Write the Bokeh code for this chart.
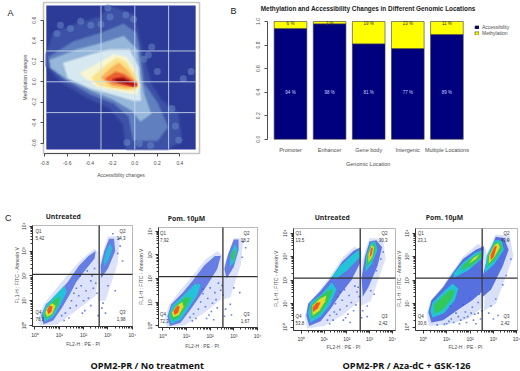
import math
import numpy as np
from bokeh.embed import file_html
from bokeh.resources import INLINE
from bokeh.layouts import column, row
from bokeh.plotting import figure
from bokeh.models import Label, FixedTicker, Legend, LegendItem, Range1d

# ---------- Panel A: density levels of (accessibility, methylation) changes
a_bg_x = [-0.785, 0.54]
a_bg_y = [-0.659, 0.743]
a_l1 = [(-0.78,0.26),(-0.72,0.47),(-0.51,0.56),(-0.30,0.63),(-0.22,0.73),(-0.01,0.65),(0.04,0.40),(0.08,0.21),(0.14,-0.02),(0.23,-0.18),(0.38,-0.31),(0.41,-0.57),(0.29,-0.65),(-0.07,-0.65),(-0.10,-0.41),(-0.22,-0.25),(-0.42,-0.15),(-0.66,0.01),(-0.78,0.16)]
a_l2 = [(-0.76,0.24),(-0.54,0.39),(-0.30,0.47),(-0.10,0.56),(0.01,0.47),(0.05,0.24),(0.08,-0.02),(0.20,-0.21),(0.29,-0.44),(0.20,-0.57),(-0.01,-0.57),(-0.05,-0.34),(-0.18,-0.21),(-0.39,-0.12),(-0.63,0.03),(-0.75,0.14)]
a_l3 = [(-0.75,0.21),(-0.51,0.31),(-0.30,0.37),(-0.10,0.44),(0.02,0.31),(0.05,0.05),(0.08,-0.12),(0.14,-0.31),(0.05,-0.38),(-0.02,-0.28),(-0.19,-0.17),(-0.39,-0.08),(-0.60,0.03),(-0.74,0.14)]
a_l4 = [(-0.63,0.18),(-0.39,0.26),(-0.22,0.31),(-0.05,0.31),(0.03,0.14),(0.04,-0.05),(0.05,-0.18),(-0.01,-0.18),(-0.19,-0.12),(-0.39,-0.06),(-0.59,0.04)]
a_l5 = [(-0.48,0.08),(-0.30,0.19),(-0.19,0.26),(-0.08,0.24),(0.01,0.09),(0.04,-0.05),(0.01,-0.12),(-0.16,-0.08),(-0.33,-0.05)]
a_l6 = [(-0.38,0.04),(-0.25,0.16),(-0.16,0.23),(-0.08,0.19),(0.01,0.05),(0.03,-0.05),(-0.02,-0.08),(-0.19,-0.06),(-0.32,-0.03)]
a_l7 = [(-0.30,0.04),(-0.20,0.14),(-0.14,0.18),(-0.07,0.11),(0.01,0.0),(0.01,-0.05),(-0.07,-0.06),(-0.20,-0.04)]
a_l8 = [(-0.26,0.03),(-0.17,0.09),(-0.10,0.07),(0.01,-0.01),(0.01,-0.04),(-0.10,-0.03),(-0.20,-0.01)]
a_l9 = [(-0.20,0.02),(-0.11,0.04),(-0.02,-0.01),(0.02,-0.03),(-0.02,-0.04),(-0.11,-0.01)]
a_l10 = [(-0.17,0.02),(-0.10,0.02),(-0.05,0.0),(-0.13,0.0)]
a_blob_x = [-0.66,-0.48,-0.57,-0.69,-0.30,-0.24,-0.08,-0.22,-0.01,-0.39,0.15,0.20,0.50,0.43,0.33,0.36,0.39,0.04,0.14,-0.07,0.12,0.08]
a_blob_y = [0.55,0.59,0.52,0.47,0.56,0.72,0.65,0.63,0.61,0.55,0.34,0.10,0.10,0.03,-0.26,-0.43,-0.57,-0.60,-0.62,-0.59,0.26,0.22]
a_ticks_x = [-0.8,-0.6,-0.4,-0.2,0.0,0.2,0.4]
a_ticks_y = [-0.6,-0.4,-0.2,0.0,0.2,0.4,0.6]
a_grid = [-0.3,0.0,0.3]

# ---------- Panel B: stacked shares per genomic location
locations = ["Promoter","Enhancer","Gene body","Intergenic","Multiple Locations"]
accessibility = [0.94,0.98,0.81,0.77,0.89]
methylation = [0.06,0.02,0.19,0.23,0.11]
acc_labels = ["94 %","98 %","81 %","77 %","89 %"]
met_labels = ["6 %","2 %","19 %","23 %","11 %"]

# ---------- Panel C: flow plots (log10 decades); density regions and loose events
c_ticks = [0,1,2,3,4]
c_tick_labels = ["10\u2070","10\u00b9","10\u00b2","10\u00b3","10\u2074"]

c1_gate = (2.64,2.06)
c1_pct = ["5,42","14,3","1,98","78,3"]
c1_pale = [(0.2,0.0),(0.9,0.03),(1.7,0.6),(2.5,1.2),(2.6,2.05),(2.6,2.95),(2.45,3.1),(1.95,2.7),(1.3,2.0),(0.8,1.4),(0.35,0.85),(0.15,0.3)]
c1_pale2 = [(2.6,1.0),(2.9,1.0),(3.4,2.5),(3.5,3.6),(3.0,3.6),(2.68,2.6)]
c1_blue = [(0.35,0.05),(0.75,0.2),(1.1,0.7),(1.4,1.2),(1.7,1.75),(2.0,2.15),(2.45,2.7),(2.5,3.0),(2.2,2.8),(1.8,2.4),(1.35,1.75),(0.9,1.25),(0.45,0.85),(0.25,0.4)]
c1_blue2 = [(2.72,1.9),(3.0,2.3),(3.3,3.0),(3.25,3.5),(3.05,3.5),(2.85,3.0),(2.7,2.4)]
c1_cyan = [(0.4,0.15),(0.75,0.35),(1.05,0.85),(1.3,1.35),(1.2,1.6),(0.85,1.25),(0.45,0.8),(0.3,0.45)]
c1_cyan2 = [(2.85,2.4),(3.0,2.6),(3.18,3.1),(3.1,3.3),(2.95,3.05),(2.82,2.6)]
c1_green = [(0.45,0.25),(0.7,0.4),(0.95,0.85),(1.05,1.15),(0.85,1.1),(0.5,0.75),(0.38,0.45)]
c1_yellow = [(0.5,0.35),(0.7,0.45),(0.85,0.8),(0.7,0.9),(0.5,0.7),(0.42,0.5)]
c1_red = [(0.55,0.45),(0.68,0.55),(0.72,0.78),(0.6,0.8),(0.5,0.62)]
c1_dot_x = [1.5,1.8,2.1,2.3,1.7,2.0,2.4,2.2,1.9,1.6,2.5,2.35,1.45,1.25,1.1,2.05,2.3,2.55,1.95,1.7,2.8,3.4,3.5,3.6,3.3,2.9,1.4,1.2,2.15,2.45,1.85,3.2,2.75,3.0,3.45,2.6]
c1_dot_y = [1.0,1.2,1.4,1.8,0.8,1.0,1.5,1.1,1.6,1.3,1.7,2.0,0.7,0.5,0.4,0.6,0.8,1.3,0.5,1.5,0.9,2.9,3.2,2.6,1.4,0.5,0.3,0.2,2.2,2.3,2.0,3.7,0.7,1.6,3.5,0.4]

c2_gate = (2.54,2.08)
c2_pct = ["7,92","18,2","1,67","72,3"]
c2_pale = [(0.15,-0.05),(0.9,0.0),(1.7,0.5),(2.45,1.1),(2.55,2.05),(2.5,3.0),(2.3,3.15),(1.8,2.8),(1.25,2.1),(0.7,1.45),(0.25,0.85),(0.1,0.3)]
c2_pale2 = [(2.55,1.1),(2.85,1.2),(3.3,2.6),(3.4,3.7),(3.0,3.7),(2.6,2.6)]
c2_blue = [(0.3,-0.02),(0.75,0.12),(1.15,0.65),(1.5,1.15),(1.9,1.75),(2.3,2.4),(2.45,2.95),(2.2,2.95),(1.75,2.55),(1.3,1.95),(0.85,1.4),(0.35,0.9),(0.2,0.4)]
c2_blue2 = [(2.7,2.0),(3.0,2.5),(3.2,3.2),(3.2,3.65),(3.0,3.65),(2.75,3.0),(2.6,2.4)]
c2_cyan = [(0.35,0.08),(0.75,0.25),(1.1,0.75),(1.45,1.3),(1.6,1.75),(1.35,1.75),(0.85,1.25),(0.4,0.85),(0.25,0.45)]
c2_cyan2 = [(2.82,2.5),(3.02,2.7),(3.15,3.25),(3.05,3.45),(2.88,3.05)]
c2_green = [(0.4,0.2),(0.7,0.35),(1.0,0.8),(1.2,1.2),(0.95,1.2),(0.55,0.85),(0.32,0.5)]
c2_green2 = [(2.9,2.75),(3.02,2.85),(3.07,3.2),(2.98,3.2),(2.88,3.0)]
c2_yellow = [(0.45,0.35),(0.68,0.45),(0.88,0.8),(0.82,1.0),(0.55,0.8),(0.38,0.55)]
c2_red = [(0.5,0.45),(0.65,0.55),(0.72,0.8),(0.62,0.85),(0.45,0.62)]
c2_dot_x = [1.6,1.9,2.2,2.35,1.8,2.1,2.45,2.25,2.0,1.7,2.5,1.5,1.3,1.15,2.05,2.3,2.55,1.95,1.7,2.85,3.35,3.5,3.25,2.9,1.4,1.25,2.65,3.0,3.4,2.6,1.85,2.15]
c2_dot_y = [1.0,1.15,1.4,1.8,0.8,0.95,1.5,1.1,1.6,1.35,1.7,0.7,0.5,0.35,0.6,0.75,1.3,0.45,1.55,0.9,2.9,3.3,1.4,0.45,0.3,0.2,0.7,1.6,3.55,0.4,0.3,0.25]

c3_gate = (2.59,2.09)
c3_pct = ["13,5","30,3","2,42","53,8"]
c3_pale = [(0.25,-0.05),(1.0,0.05),(1.8,0.5),(2.55,1.1),(2.6,2.05),(2.65,3.2),(2.35,3.45),(1.8,2.95),(1.3,2.2),(0.8,1.55),(0.3,1.0),(0.15,0.45)]
c3_pale2 = [(2.6,0.9),(3.05,1.1),(3.7,2.9),(3.6,3.75),(3.0,3.8),(2.65,2.8)]
c3_blue = [(0.35,0.05),(0.85,0.25),(1.3,0.8),(1.75,1.45),(2.2,2.0),(2.6,2.75),(2.6,3.4),(2.3,3.25),(1.8,2.8),(1.35,2.15),(0.85,1.55),(0.3,1.0),(0.22,0.5)]
c3_blue2 = [(2.7,1.3),(2.95,1.7),(3.35,2.6),(3.55,3.4),(3.3,3.7),(3.0,3.65),(2.8,3.0),(2.65,2.1)]
c3_cyan = [(0.4,0.2),(0.85,0.45),(1.25,0.95),(1.55,1.6),(1.35,1.9),(0.9,1.4),(0.4,1.05),(0.3,0.6)]
c3_cyan_band = [(1.5,2.05),(2.0,2.4),(2.6,3.0),(2.55,3.3),(2.2,3.05),(1.65,2.55),(1.35,2.15)]
c3_cyan2 = [(2.82,2.35),(3.1,2.7),(3.35,3.3),(3.25,3.65),(3.05,3.6),(2.85,3.0)]
c3_green = [(0.45,0.35),(0.85,0.6),(1.2,1.1),(1.4,1.6),(1.15,1.55),(0.7,1.2),(0.4,0.9)]
c3_green2 = [(2.88,2.55),(3.1,2.85),(3.28,3.35),(3.2,3.6),(3.05,3.45),(2.88,3.0)]
c3_yellow = [(0.5,0.5),(0.8,0.7),(1.05,1.1),(1.1,1.35),(0.8,1.2),(0.48,0.9)]
c3_yellow2 = [(2.95,2.75),(3.12,3.0),(3.2,3.4),(3.1,3.5),(2.95,3.1)]
c3_red = [(0.52,0.65),(0.72,0.8),(0.85,1.05),(0.68,1.05),(0.5,0.85)]
c3_red2 = [(3.0,2.95),(3.1,3.1),(3.15,3.4),(3.05,3.35)]
c3_dot_x = [1.5,1.8,2.1,2.35,1.7,2.0,2.45,2.2,1.9,1.6,2.5,1.45,1.25,1.15,2.05,2.3,2.55,1.95,1.7,2.9,3.3,3.5,3.2,2.9,1.4,1.25,2.7,3.05,3.6,2.65,1.85,2.15,1.55,2.4]
c3_dot_y = [1.0,1.15,1.35,1.75,0.75,0.9,1.5,1.05,1.6,1.3,1.7,0.65,0.5,0.3,0.55,0.7,1.3,0.4,1.5,0.9,2.4,2.9,1.4,0.45,0.3,0.15,0.7,1.55,3.2,0.4,0.3,0.2,0.55,0.95]

c4_gate = (2.52,2.09)
c4_pct = ["23,1","43,9","2,42","30,6"]
c4_pale = [(0.25,0.05),(1.0,0.1),(1.9,0.35),(2.55,0.85),(2.6,2.05),(2.7,3.3),(2.35,3.55),(1.7,3.0),(1.2,2.3),(0.8,1.7),(0.3,1.1),(0.15,0.55)]
c4_pale2 = [(2.6,0.7),(3.1,1.0),(3.85,3.0),(3.7,3.9),(3.1,3.95),(2.65,3.0)]
c4_blue = [(0.35,0.2),(0.85,0.3),(1.5,0.75),(2.1,1.15),(2.5,1.5),(2.55,2.7),(2.6,3.45),(2.25,3.3),(1.7,2.9),(1.25,2.3),(0.85,1.7),(0.35,1.15),(0.22,0.65)]
c4_blue2 = [(2.55,1.3),(2.9,1.6),(3.4,2.6),(3.65,3.3),(3.45,3.8),(3.1,3.85),(2.75,3.0),(2.55,2.2)]
c4_cyan = [(0.4,0.4),(0.9,0.6),(1.35,1.15),(1.5,1.65),(1.25,1.85),(0.85,1.5),(0.4,1.05),(0.3,0.7)]
c4_cyan_band = [(1.3,2.1),(1.9,2.4),(2.5,2.9),(2.55,3.3),(2.2,3.15),(1.7,2.75),(1.3,2.3)]
c4_cyan2 = [(2.62,2.3),(3.05,2.7),(3.45,3.3),(3.35,3.7),(3.05,3.7),(2.72,3.05)]
c4_green = [(0.5,0.55),(0.9,0.8),(1.25,1.25),(1.35,1.6),(1.1,1.55),(0.75,1.25),(0.45,0.95)]
c4_green_band = [(1.6,2.4),(2.1,2.65),(2.5,3.0),(2.5,3.2),(2.15,3.0),(1.7,2.65)]
c4_green2 = [(2.72,2.55),(3.05,2.85),(3.38,3.35),(3.3,3.62),(3.05,3.6),(2.78,3.05)]
c4_yellow = [(2.8,2.7),(3.05,3.0),(3.28,3.4),(3.2,3.58),(3.05,3.5),(2.82,3.05)]
c4_yellow_band = [(1.95,2.7),(2.25,2.9),(2.4,3.1),(2.15,2.95)]
c4_red = [(2.88,2.85),(3.02,3.0),(3.15,3.45),(3.05,3.45),(2.88,3.08)]
c4_dot_x = [1.2,1.5,1.8,2.1,2.35,1.1,1.4,1.7,2.0,2.4,1.3,1.6,1.9,2.2,2.5,1.0,1.55,1.85,2.15,2.45,2.9,3.1,3.4,3.55,3.75,2.8,3.2,1.15,1.75,2.25,2.05,2.35,0.9,0.6,3.6,3.0]
c4_dot_y = [0.35,0.45,0.65,0.85,1.05,0.25,0.6,0.95,1.25,1.4,0.2,0.3,0.45,0.55,0.7,0.15,0.15,0.2,0.3,0.35,0.9,1.2,1.8,2.2,2.9,0.6,0.5,0.9,0.4,0.15,0.6,0.6,0.12,0.1,3.7,0.35]

FONT = "Liberation Sans"
GREY = "#4d4d4d"


def canvas_figure(w, h, left, top, box, xr, yr):
    """A figure whose frame is its whole canvas; the panel box (page px) maps to xr, yr."""
    l, r, t, b = box
    xs = (xr[1] - xr[0]) / (r - l)
    ys = (yr[1] - yr[0]) / (b - t)
    x_full = (xr[0] - (l - left) * xs, xr[1] + (left + w - r) * xs)
    y_full = (yr[0] - (top + h - b) * ys, yr[1] + (t - top) * ys)
    f = figure(width=w, height=h, x_range=Range1d(*x_full), y_range=Range1d(*y_full),
               output_backend="svg", toolbar_location=None,
               min_border_left=0, min_border_right=0, min_border_top=0, min_border_bottom=0)
    f.grid.visible = False
    f.outline_line_color = None
    f.background_fill_color = None
    f.border_fill_color = None
    f.xaxis[0].fixed_location = yr[0]
    f.yaxis[0].fixed_location = xr[0]
    X = lambda p: xr[0] + (p - l) * xs
    Y = lambda p: yr[1] - (p - t) * ys
    return f, X, Y


def note(f, x, y, text, size, color="#333333", align="left", baseline="middle",
         style="normal", font=FONT, angle=0.0):
    f.add_layout(Label(x=x, y=y, text=text, text_font=font, text_font_size=f"{size}px",
                       text_color=color, text_align=align, text_baseline=baseline,
                       text_font_style=style, angle=angle))


def poly(f, pts, color, alpha=1.0, soft=0.0):
    f.patch([q[0] for q in pts], [q[1] for q in pts], fill_color=color, fill_alpha=alpha,
            line_color=color if soft else None, line_width=soft, line_alpha=0.45)


def style_axis(ax, color=GREY, size=5, tick=3):
    ax.axis_line_color = color
    ax.major_tick_line_color = color
    ax.major_tick_out = tick
    ax.major_tick_in = 0
    ax.minor_tick_line_color = None
    ax.major_label_text_font = FONT
    ax.major_label_text_font_size = f"{size}px"
    ax.major_label_text_color = color


# ---------- A
a_box_x = (-0.81, 0.574)
a_box_y = (-0.698, 0.772)
fa, XA, YA = canvas_figure(215, 190, 0, 0, (43, 199, 2, 153), a_box_x, a_box_y)
fa.quad(left=a_bg_x[0], right=a_bg_x[1], bottom=a_bg_y[0], top=a_bg_y[1], fill_color="#2d3b98", line_color=None)
poly(fa, a_l1, "#3d52a6", soft=4)
fa.scatter(a_blob_x, a_blob_y, size=7, marker="circle", fill_color="#6686c4", fill_alpha=0.55, line_color=None)
a_shades = ["#5f7fbe", "#97b7da", "#d6e9f0", "#f8f6d2", "#fbe38a", "#f8b25a", "#e9602f", "#b8141b", "#7d0a12"]
for pts, shade in zip([a_l2, a_l3, a_l4, a_l5, a_l6, a_l7, a_l8, a_l9, a_l10], a_shades):
    poly(fa, pts, shade, soft=3)
fa.segment(x0=a_grid, y0=[a_bg_y[0]] * 3, x1=a_grid, y1=[a_bg_y[1]] * 3, line_color="#cfdcef", line_width=1, line_alpha=0.85)
fa.segment(x0=[a_bg_x[0]] * 3, y0=a_grid, x1=[a_bg_x[1]] * 3, y1=a_grid, line_color="#cfdcef", line_width=1, line_alpha=0.85)
fa.quad(left=a_box_x[0], right=a_box_x[1], bottom=a_box_y[0], top=a_box_y[1], fill_color=None, line_color="#c4c4c4", line_width=1.6)
for ax, ticks in ((fa.xaxis[0], a_ticks_x), (fa.yaxis[0], a_ticks_y)):
    ax.ticker = FixedTicker(ticks=ticks)
    style_axis(ax)
    ax.major_label_standoff = 4
    ax.bounds = (ticks[0], ticks[-1])
    ax.major_label_overrides = {t: f"{t:.1f}" for t in ticks}
fa.yaxis[0].major_label_orientation = "vertical"
note(fa, XA(120.5), YA(174), "Accessibility changes", 5, color=GREY, align="center")
note(fa, XA(24), YA(77), "Methylation changes", 5, color=GREY, align="center", angle=math.pi / 2)
note(fa, XA(7), YA(12), "A", 9, color="#222222")

# ---------- B
b_unit = 117.7
b_pitch = 39.1
b_left = -(290 - 266.7) / b_pitch
b_right = (470 - 290) / b_pitch
fb, XB, YB = canvas_figure(305, 190, 215, 0, (266.7, 470, 21, 138.7), (b_left, b_right), (0.0, 1.0))
bar_idx = list(range(len(locations)))
r_acc = fb.vbar(x=bar_idx, width=0.835, bottom=0, top=accessibility, fill_color="#00007f", line_color="#3a3a3a", line_width=0.6)
r_met = fb.vbar(x=bar_idx, width=0.835, bottom=accessibility, top=[a + m for a, m in zip(accessibility, methylation)],
                fill_color="#ffff00", line_color="#3a3a3a", line_width=0.6)
for i in bar_idx:
    note(fb, i, 0.40, acc_labels[i], 4.5, color="#c9d2ff", align="center")
    note(fb, i, 0.985, met_labels[i], 4.5, color="#333333", align="center")
fb.xaxis[0].ticker = FixedTicker(ticks=bar_idx)
style_axis(fb.xaxis[0], size=5.5)
fb.xaxis[0].major_label_overrides = {i: locations[i] for i in bar_idx}
fb.xaxis[0].axis_line_color = None
fb.xaxis[0].major_tick_line_color = None
fb.xaxis[0].major_tick_out = 0
fb.xaxis[0].major_label_standoff = 8
fb.yaxis[0].ticker = FixedTicker(ticks=[0, 0.2, 0.4, 0.6, 0.8, 1.0])
style_axis(fb.yaxis[0], size=5)
fb.yaxis[0].bounds = (0, 1)
fb.yaxis[0].major_label_overrides = {0: "0.0", 0.2: "0.2", 0.4: "0.4", 0.6: "0.6", 0.8: "0.8", 1.0: "1.0"}
fb.yaxis[0].major_label_orientation = "vertical"
fb.yaxis[0].major_label_standoff = 4
note(fb, XB(367.7), YB(8), "Methylation and Accessibility Changes in Different Genomic Locations",
     6.4, color="#1a1a1a", align="center", style="bold")
note(fb, XB(367.7), YB(163), "Genomic Location", 5.5, color=GREY, align="center")
note(fb, XB(230), YB(10), "B", 9, color="#222222", align="left")
leg = Legend(items=[LegendItem(label="Accessibility", renderers=[r_acc]), LegendItem(label="Methylation", renderers=[r_met])],
             location=(259, 154), border_line_color=None, background_fill_alpha=0,
             glyph_width=5, glyph_height=4, label_text_font=FONT, label_text_font_size="5px", label_text_color=GREY,
             padding=0, margin=0, spacing=0, label_standoff=3, label_height=5)
fb.add_layout(leg)


# ---------- C
def flow(w, canvas_left, box, xr, yr, gate, pct, layers, dot_x, dot_y, title, title_cx, title_y, q, xlab, ylab_x):
    f, X, Y = canvas_figure(w, 160, canvas_left, 190, box, xr, yr)
    f.quad(left=xr[0], right=xr[1], bottom=yr[0], top=yr[1], fill_color=None, line_color="#999999", line_width=0.7)
    for pts, color, alpha in layers:
        poly(f, pts, color, alpha)
    f.scatter(dot_x, dot_y, size=1.6, marker="square", fill_color="#3b58d8", fill_alpha=0.75, line_color=None)
    f.segment(x0=[gate[0]], y0=[yr[0]], x1=[gate[0]], y1=[yr[1]], line_color="#333333", line_width=1.3)
    f.segment(x0=[xr[0]], y0=[gate[1]], x1=[xr[1]], y1=[gate[1]], line_color="#333333", line_width=1.3)
    minor = [float(np.log10(m)) + d for d in range(4) for m in range(2, 10)]
    for ax, span in ((f.xaxis[0], xr), (f.yaxis[0], yr)):
        style_axis(ax, color="#333333", size=5)
        ax.bounds = span
        ax.ticker = FixedTicker(ticks=c_ticks, minor_ticks=minor)
        ax.major_label_overrides = dict(zip(c_ticks, c_tick_labels))
        ax.minor_tick_line_color = "#333333"
        ax.minor_tick_out = 2
        ax.minor_tick_in = 0
        ax.major_label_standoff = 2
    f.yaxis[0].major_label_orientation = "vertical"
    note(f, X(xlab[0]), Y(xlab[1]), "FL2-H : PE - PI", 5, color=GREY, align="center")
    note(f, X(ylab_x), Y((box[2] + box[3]) / 2 - 1), "FL1-H : FITC - Annexin V", 5, color=GREY, align="center", angle=math.pi / 2)
    note(f, X(title_cx), Y(title_y), title, 6.8, color="#262626", align="center", style="bold", font="Open Sans")
    lft, rgt, ytop, ybot = q
    note(f, X(lft), Y(ytop), "Q1", 4.5)
    note(f, X(lft), Y(ytop + 6.5), pct[0], 4.5)
    note(f, X(rgt), Y(ytop), "Q2", 4.5, align="right")
    note(f, X(rgt), Y(ytop + 6.5), pct[1], 4.5, align="right")
    note(f, X(rgt), Y(ybot), "Q3", 4.5, align="right")
    note(f, X(rgt), Y(ybot + 6.5), pct[2], 4.5, align="right")
    note(f, X(lft), Y(ybot), "Q4", 4.5)
    note(f, X(lft), Y(ybot + 6.5), pct[3], 4.5)
    return f, X, Y


PALE, BLUE, CYAN, GREEN, YELLOW, RED = "#c3cff5", "#3f5cdc", "#25c3d8", "#34c85c", "#dfdc2c", "#ec5a26"
c1_layers = [(c1_pale, PALE, 0.6), (c1_pale2, PALE, 0.6), (c1_blue, BLUE, 0.75), (c1_blue2, BLUE, 0.75), (c1_cyan, CYAN, 1), (c1_cyan2, CYAN, 0.85),
             (c1_green, GREEN, 1), (c1_yellow, YELLOW, 1), (c1_red, RED, 1)]
c2_layers = [(c2_pale, PALE, 0.6), (c2_pale2, PALE, 0.6), (c2_blue, BLUE, 0.75), (c2_blue2, BLUE, 0.75), (c2_cyan, CYAN, 1), (c2_cyan2, CYAN, 1),
             (c2_green, GREEN, 1), (c2_green2, GREEN, 1), (c2_yellow, YELLOW, 1), (c2_red, RED, 1)]
c3_layers = [(c3_pale, PALE, 0.6), (c3_pale2, PALE, 0.6), (c3_blue, BLUE, 0.8), (c3_blue2, BLUE, 0.8), (c3_cyan, CYAN, 1), (c3_cyan_band, CYAN, 1), (c3_cyan2, CYAN, 1),
             (c3_green, GREEN, 1), (c3_green2, GREEN, 1), (c3_yellow, YELLOW, 1), (c3_yellow2, YELLOW, 1), (c3_red, RED, 1), (c3_red2, RED, 1)]
c4_layers = [(c4_pale, PALE, 0.65), (c4_pale2, PALE, 0.65), (c4_blue, BLUE, 0.85), (c4_blue2, BLUE, 0.85), (c4_cyan, CYAN, 1), (c4_cyan_band, CYAN, 1), (c4_cyan2, CYAN, 1),
             (c4_green, GREEN, 1), (c4_green_band, GREEN, 1), (c4_green2, GREEN, 1), (c4_yellow, YELLOW, 1), (c4_yellow_band, YELLOW, 1), (c4_red, RED, 1)]

f1, X1, Y1 = flow(136, 0, (32, 132, 225, 326), (-0.1, 4.01), (-0.04, 4.03), c1_gate, c1_pct, c1_layers, c1_dot_x, c1_dot_y,
                  "Untreated", 62.7, 216, (35, 125, 231, 312), (82.7, 343), 16.7)
f2, X2, Y2 = flow(136, 136, (158, 257, 227, 327), (-0.18, 4.0), (-0.08, 4.16), c2_gate, c2_pct, c2_layers, c2_dot_x, c2_dot_y,
                  "Pom. 10\u00b5M", 186, 218, (159.5, 249, 233, 314), (201.7, 345), 140)
f3, X3, Y3 = flow(124, 272, (293, 395, 228, 330), (-0.34, 4.14), (-0.14, 4.2), c3_gate, c3_pct, c3_layers, c3_dot_x, c3_dot_y,
                  "Untreated", 331.7, 216.7, (295, 387, 233, 316), (343, 346.5), 275.7)
f4, X4, Y4 = flow(124, 396, (415, 517, 228, 330), (-0.33, 4.03), (-0.14, 4.2), c4_gate, c4_pct, c4_layers, c4_dot_x, c4_dot_y,
                  "Pom. 10\u00b5M", 444, 216.7, (417.3, 509, 233, 316), (465, 346.5), 398)
note(f1, X1(4.5), Y1(217.5), "C", 9, color="#222222")

# ---------- captions under the flow plots
fc, XC, YC = canvas_figure(520, 21, 0, 350, (0, 520, 350, 371), (0, 520), (0, 21))
fc.xaxis.visible = False
fc.yaxis.visible = False
note(fc, 146.7, 6, "OPM2-PR / No treatment", 9.2, color="#111111", align="center", style="bold", font="Open Sans")
note(fc, 406, 6, "OPM2-PR / Aza-dC + GSK-126", 9.2, color="#111111", align="center", style="bold", font="Open Sans")

page = column(row(fa, fb, spacing=0), row(f1, f2, f3, f4, spacing=0), fc, spacing=0)
open("out.html", "w").write(file_html(page, INLINE))
